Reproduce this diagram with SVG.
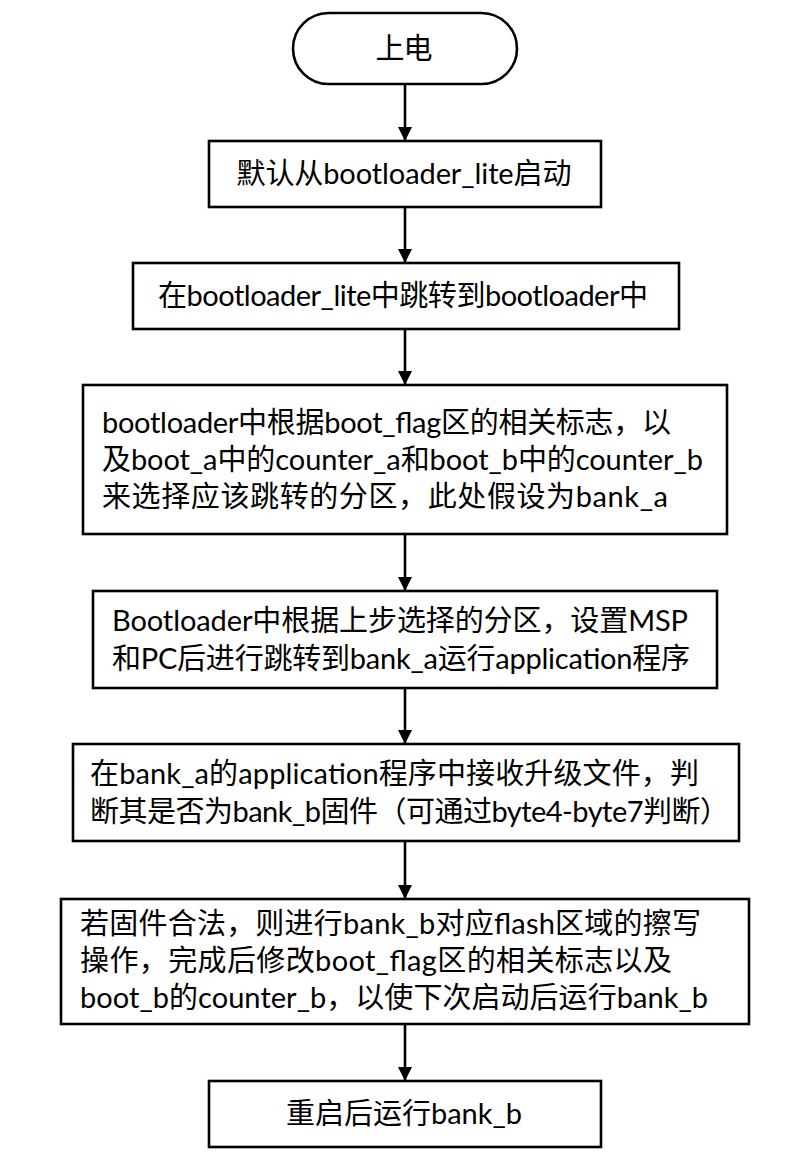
<svg xmlns="http://www.w3.org/2000/svg" width="810" height="1160" viewBox="0 0 810 1160">
<style>
.shape{fill:#ffffff;stroke:#000000;stroke-width:2.6}
.t{font-family:"Lato","Noto Sans CJK SC",sans-serif;font-size:29px;fill:#000000}
.c{text-anchor:middle}
.edge{stroke:#000000;stroke-width:2.6;fill:none;marker-end:url(#arrow)}
</style>
<defs>
<marker id="arrow" markerUnits="userSpaceOnUse" markerWidth="15" markerHeight="15" refX="14" refY="7" orient="auto">
<path d="M0,0 L14,7 L0,14 z" fill="#000000"/>
</marker>
</defs>
<rect width="810" height="1160" fill="#ffffff"/>
<g id="connectors">
<line class="edge" x1="405" y1="84" x2="405" y2="141"/>
<line class="edge" x1="405" y1="207" x2="405" y2="263"/>
<line class="edge" x1="405" y1="329" x2="405" y2="385"/>
<line class="edge" x1="405" y1="534" x2="405" y2="591"/>
<line class="edge" x1="405" y1="688" x2="405" y2="744"/>
<line class="edge" x1="405" y1="841" x2="405" y2="899"/>
<line class="edge" x1="405" y1="1024" x2="405" y2="1081"/>
</g>
<g id="start">
<rect class="shape" x="293" y="13" width="224" height="71" rx="35.5" ry="35.5"/>
<text class="t c" x="404" y="59" font-size="28" textLength="57">上电</text>
</g>
<g id="step1">
<rect class="shape" x="209" y="141" width="392" height="66"/>
<text class="t c" x="404" y="184" textLength="335">默认从bootloader_lite启动</text>
</g>
<g id="step2">
<rect class="shape" x="133" y="263" width="546" height="66"/>
<text class="t c" x="403" y="306" textLength="490">在bootloader_lite中跳转到bootloader中</text>
</g>
<g id="step3">
<rect class="shape" x="83" y="385" width="644" height="149"/>
<text class="t" x="102" y="433" textLength="569">bootloader中根据boot_flag区的相关标志，以</text>
<text class="t" x="102" y="470" textLength="601">及boot_a中的counter_a和boot_b中的counter_b</text>
<text class="t" x="102" y="507" textLength="566">来选择应该跳转的分区，此处假设为bank_a</text>
</g>
<g id="step4">
<rect class="shape" x="93" y="591" width="624" height="97"/>
<text class="t" x="112" y="631" textLength="576">Bootloader中根据上步选择的分区，设置MSP</text>
<text class="t" x="112" y="669" textLength="578">和PC后进行跳转到bank_a运行application程序</text>
</g>
<g id="step5">
<rect class="shape" x="73" y="744" width="666" height="97"/>
<text class="t" x="90" y="784" textLength="609">在bank_a的application程序中接收升级文件，判</text>
<text class="t" x="90" y="822" textLength="639">断其是否为bank_b固件（可通过byte4-byte7判断）</text>
</g>
<g id="step6">
<rect class="shape" x="61" y="899" width="688" height="125"/>
<text class="t" x="80" y="934" textLength="621">若固件合法，则进行bank_b对应flash区域的擦写</text>
<text class="t" x="80" y="971" textLength="592">操作，完成后修改boot_flag区的相关标志以及</text>
<text class="t" x="80" y="1008" textLength="628">boot_b的counter_b，以使下次启动后运行bank_b</text>
</g>
<g id="step7">
<rect class="shape" x="209" y="1081" width="392" height="66"/>
<text class="t c" x="404" y="1124" textLength="236">重启后运行bank_b</text>
</g>
</svg>
